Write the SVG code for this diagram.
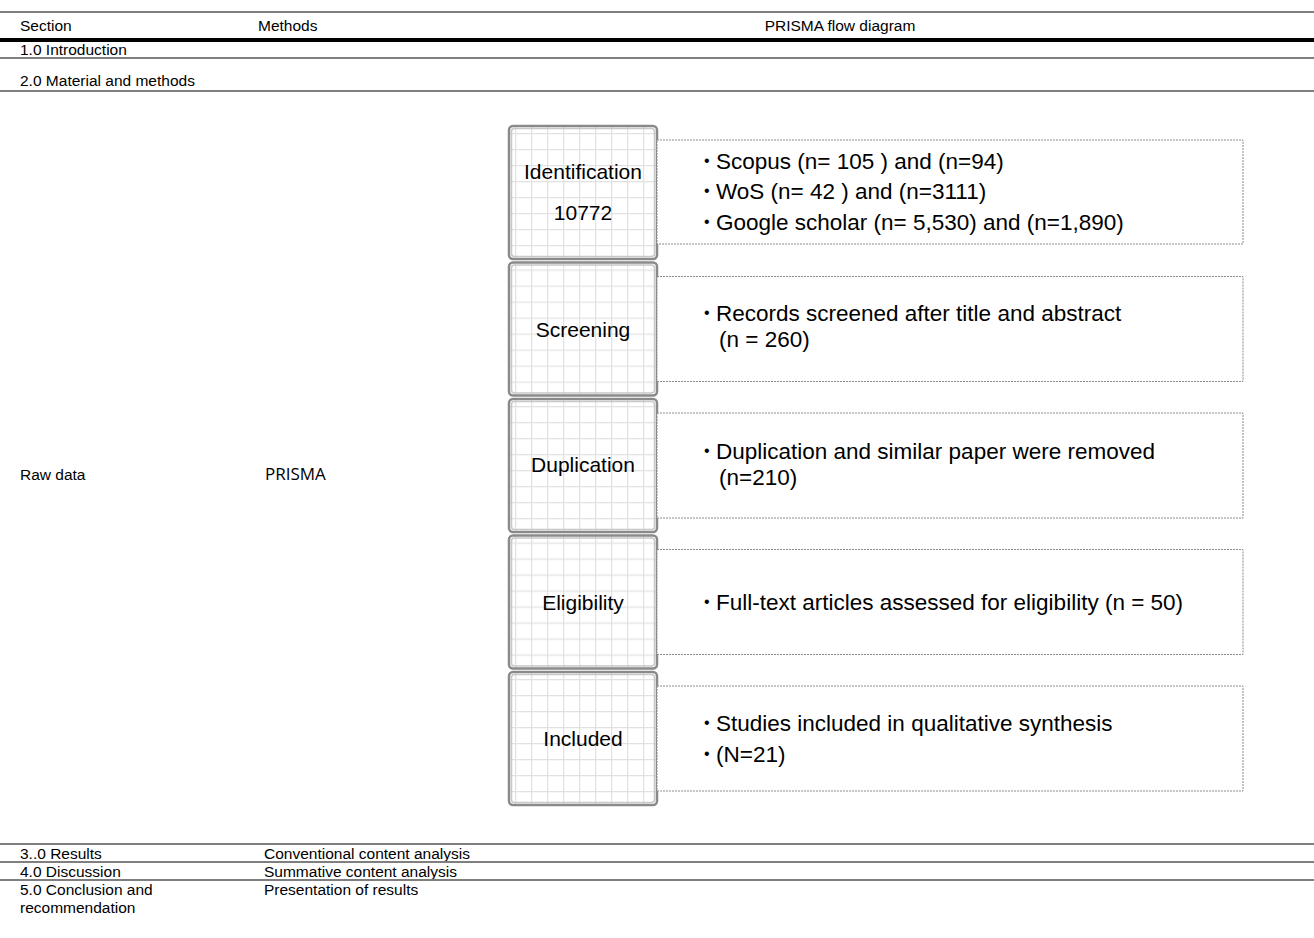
<svg xmlns="http://www.w3.org/2000/svg" width="1314" height="938" viewBox="0 0 1314 938">
<style>
.t{font-family:"Liberation Sans",Arial,sans-serif;font-size:15.5px;fill:#000}
.rule{stroke:#7f7f7f;stroke-width:2}
.lab{font-family:"Liberation Sans",Arial,sans-serif;font-size:21px;fill:#000;text-anchor:middle}
.det{font-family:"Liberation Sans",Arial,sans-serif;font-size:22.5px;fill:#000}
.bul{font-family:"Liberation Sans",Arial,sans-serif;font-size:16px;fill:#000}
.stage{fill:url(#grid);stroke:#8a8a8a;stroke-width:2.5}
.inner{fill:none;stroke:#c8c8c8;stroke-width:1.5}
.dbox{fill:#fff;stroke:#8c8c8c;stroke-width:1;stroke-dasharray:2 1}
.cal{font-family:"Open Sans","Noto Sans",sans-serif;font-size:17px;fill:#000}
</style>
<defs>
<pattern id="grid" patternUnits="userSpaceOnUse" x="6" y="7" width="16" height="16">
<rect width="16" height="16" fill="#fff"/>
<path d="M0 0H16M0 0V16" stroke="#e2e2e2" stroke-width="2.5" fill="none"/>
</pattern>
</defs>
<rect width="1314" height="938" fill="#fff"/>

<g id="table-top">
<line class="rule" x1="0" y1="12" x2="1314" y2="12"/>
<text class="t" x="20" y="31">Section</text>
<text class="t" x="258" y="31">Methods</text>
<text class="t" x="840" y="31" text-anchor="middle">PRISMA flow diagram</text>
<line x1="0" y1="40" x2="1314" y2="40" stroke="#000" stroke-width="4"/>
<text class="t" x="20" y="55">1.0 Introduction</text>
<line class="rule" x1="0" y1="58" x2="1314" y2="58"/>
<text class="t" x="20" y="86">2.0 Material and methods</text>
<line class="rule" x1="0" y1="91" x2="1314" y2="91"/>
<text class="t" x="20" y="480">Raw data</text>
<text class="cal" x="265" y="480">PRISMA</text>
</g>

<g id="node-identification" transform="translate(509,126)">
<rect class="stage" width="148" height="133" rx="4"/>
<rect class="inner" x="2.5" y="2.5" width="143" height="128" rx="3"/>
<text class="lab" x="74" y="53">Identification</text>
<text class="lab" x="74" y="94">10772</text>
</g>
<g id="detail-identification">
<rect class="dbox" x="657" y="140" width="586" height="104"/>
<text class="bul" x="704" y="166">•</text>
<text class="det" x="716" y="169">Scopus (n= 105 ) and (n=94)</text>
<text class="bul" x="704" y="196">•</text>
<text class="det" x="716" y="199">WoS (n= 42 ) and (n=3111)</text>
<text class="bul" x="704" y="227">•</text>
<text class="det" x="716" y="230">Google scholar (n= 5,530) and (n=1,890)</text>
</g>

<g id="node-screening" transform="translate(509,262.5)">
<rect class="stage" width="148" height="133" rx="4"/>
<rect class="inner" x="2.5" y="2.5" width="143" height="128" rx="3"/>
<text class="lab" x="74" y="74">Screening</text>
</g>
<g id="detail-screening">
<rect class="dbox" x="657" y="276.5" width="586" height="105"/>
<text class="bul" x="704" y="318">•</text>
<text class="det" x="716" y="321">Records screened after title and abstract</text>
<text class="det" x="719" y="347">(n = 260)</text>
</g>

<g id="node-duplication" transform="translate(509,399)">
<rect class="stage" width="148" height="133" rx="4"/>
<rect class="inner" x="2.5" y="2.5" width="143" height="128" rx="3"/>
<text class="lab" x="74" y="73">Duplication</text>
</g>
<g id="detail-duplication">
<rect class="dbox" x="657" y="413" width="586" height="105"/>
<text class="bul" x="704" y="456">•</text>
<text class="det" x="716" y="459">Duplication and similar paper were removed</text>
<text class="det" x="719" y="485">(n=210)</text>
</g>

<g id="node-eligibility" transform="translate(509,535.5)">
<rect class="stage" width="148" height="133" rx="4"/>
<rect class="inner" x="2.5" y="2.5" width="143" height="128" rx="3"/>
<text class="lab" x="74" y="74">Eligibility</text>
</g>
<g id="detail-eligibility">
<rect class="dbox" x="657" y="549.5" width="586" height="105"/>
<text class="bul" x="704" y="607">•</text>
<text class="det" x="716" y="610">Full-text articles assessed for eligibility (n = 50)</text>
</g>

<g id="node-included" transform="translate(509,672)">
<rect class="stage" width="148" height="133" rx="4"/>
<rect class="inner" x="2.5" y="2.5" width="143" height="128" rx="3"/>
<text class="lab" x="74" y="74">Included</text>
</g>
<g id="detail-included">
<rect class="dbox" x="657" y="686" width="586" height="105"/>
<text class="bul" x="704" y="728">•</text>
<text class="det" x="716" y="731">Studies included in qualitative synthesis</text>
<text class="bul" x="704" y="759">•</text>
<text class="det" x="716" y="762">(N=21)</text>
</g>

<g id="table-bottom">
<line class="rule" x1="0" y1="844" x2="1314" y2="844"/>
<text class="t" x="20" y="859">3..0 Results</text>
<text class="t" x="264" y="859">Conventional content analysis</text>
<line class="rule" x1="0" y1="862" x2="1314" y2="862"/>
<text class="t" x="20" y="877">4.0 Discussion</text>
<text class="t" x="264" y="877">Summative content analysis</text>
<line class="rule" x1="0" y1="880" x2="1314" y2="880"/>
<text class="t" x="20" y="895">5.0 Conclusion and</text>
<text class="t" x="20" y="913">recommendation</text>
<text class="t" x="264" y="895">Presentation of results</text>
</g>
<g id="connectors"/>
</svg>
